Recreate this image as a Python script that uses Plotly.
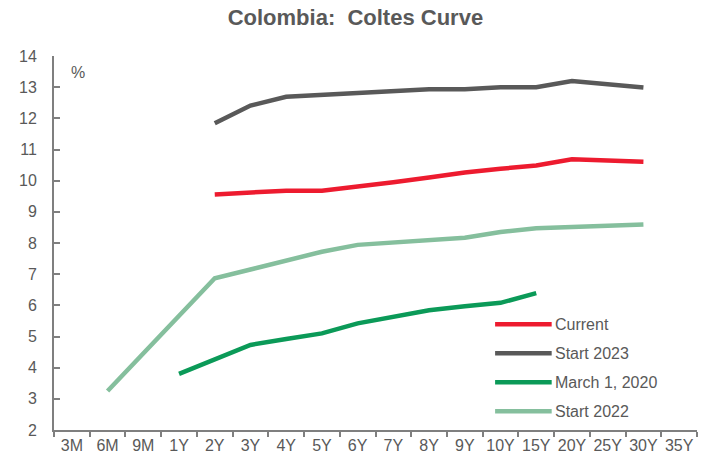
import plotly.graph_objects as go

categories = ["3M", "6M", "9M", "1Y", "2Y", "3Y", "4Y", "5Y", "6Y", "7Y", "8Y", "9Y",
              "10Y", "15Y", "20Y", "25Y", "30Y", "35Y"]

current = [None, None, None, None, 9.56, 9.62, 9.68, 9.68, 9.80, 9.95, 10.10, 10.26,
           10.38, 10.49, 10.69, None, 10.61, None]
start_2023 = [None, None, None, None, 11.84, 12.41, 12.69, 12.75, 12.82, 12.88, 12.93, 12.93,
              13.00, 13.00, 13.20, None, 12.99, None]
march_2020 = [None, None, None, 3.80, 4.25, 4.73, 4.92, 5.10, 5.42, 5.62, 5.84, 5.97,
              6.08, 6.39, None, None, None, None]
start_2022 = [None, 3.25, None, None, 6.87, 7.15, 7.43, 7.72, 7.94, 8.02, 8.10, 8.17,
              8.35, 8.47, 8.51, None, 8.59, None]

series_names = ["Current", "Start 2023", "March 1, 2020", "Start 2022"]
series_values = [current, start_2023, march_2020, start_2022]
series_colors = ["#ED1B2F", "#595959", "#0B9A58", "#85BF9D"]

y_ticks = list(range(2, 15))

FONT = "Liberation Sans, Arial"
GREY = "#595959"

fig = go.Figure()
for name, vals, col in zip(series_names, series_values, series_colors):
    fig.add_trace(go.Scatter(
        x=categories, y=vals, mode="lines", name=name,
        line=dict(color=col, width=4.5), connectgaps=True, showlegend=False,
    ))

# manual legend (paper coordinates)
leg_x0, leg_x1, leg_text_x = 0.686, 0.774, 0.776
leg_y = [0.283, 0.205, 0.128, 0.050]
shapes = []
annotations = []
for name, col, yy in zip(series_names, series_colors, leg_y):
    shapes.append(dict(type="line", xref="paper", yref="paper",
                       x0=leg_x0, x1=leg_x1, y0=yy, y1=yy,
                       line=dict(color=col, width=4.5)))
    annotations.append(dict(xref="paper", yref="paper", x=leg_text_x, y=yy,
                            text=name, showarrow=False, xanchor="left", yanchor="middle",
                            font=dict(family=FONT, size=16, color=GREY)))

annotations.append(dict(xref="paper", yref="paper", x=0.038, y=0.955, text="%",
                        showarrow=False, xanchor="center", yanchor="middle",
                        font=dict(family=FONT, size=16, color=GREY)))

fig.update_layout(
    width=701, height=462,
    margin=dict(l=54, r=4, t=56, b=32),
    paper_bgcolor="white", plot_bgcolor="white",
    title=dict(text="<b>Colombia:  Coltes Curve</b>", x=0.507, xanchor="center",
               y=0.962, yanchor="middle",
               font=dict(family=FONT, size=22, color=GREY)),
    font=dict(family=FONT, size=16, color=GREY),
    shapes=shapes, annotations=annotations,
    xaxis=dict(type="category", categoryorder="array", categoryarray=categories,
               range=[-0.5, len(categories) - 0.5], showgrid=False, zeroline=False,
               showline=True, linecolor="#7F7F7F", linewidth=2,
               ticks="outside", ticklen=5, tickwidth=2, tickcolor="#7F7F7F",
               tickson="boundaries", tickangle=0, automargin=False,
               tickfont=dict(size=16, color=GREY)),
    yaxis=dict(range=[2, 14], tickvals=y_ticks, showgrid=False, zeroline=False,
               showline=True, linecolor="#7F7F7F", linewidth=2,
               ticks="inside", ticklen=6, tickwidth=2, tickcolor="#7F7F7F",
               ticklabelstandoff=12, automargin=False,
               tickfont=dict(size=16, color=GREY)),
)

fig.write_html("out.html")
